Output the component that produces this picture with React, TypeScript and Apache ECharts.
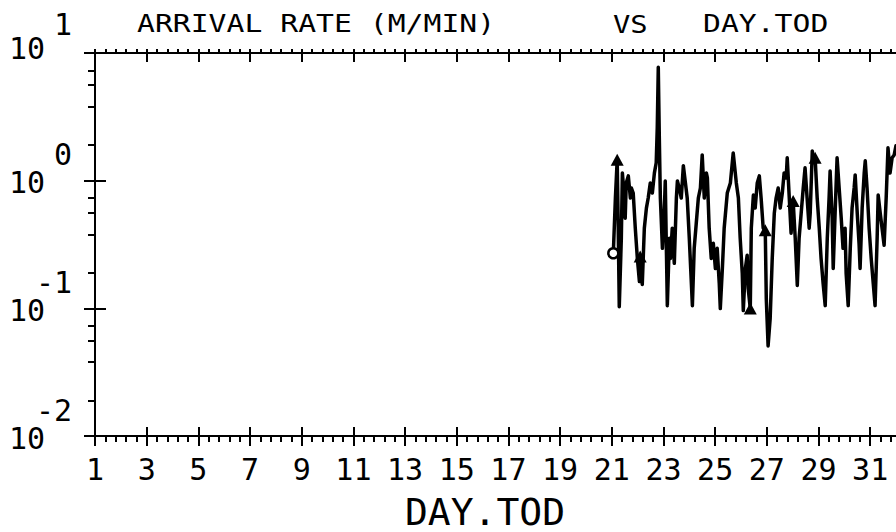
import React, { useEffect, useRef } from "react";
import * as echarts from "echarts";

const FONT = "'DejaVu Sans Mono', monospace";

// Sampled arrival-rate series (day of month, rate in M/MIN)
const days = [
  21.06, 21.14, 21.21, 21.25, 21.29, 21.37, 21.41, 21.49, 21.52, 21.56,
  21.64, 21.72, 21.76, 21.83, 21.91, 21.99, 22.07, 22.10, 22.18, 22.26,
  22.34, 22.41, 22.49, 22.57, 22.65, 22.72, 22.76, 22.80, 22.84, 22.88,
  22.96, 23.03, 23.07, 23.15, 23.23, 23.27, 23.34, 23.42, 23.50, 23.54,
  23.61, 23.69, 23.77, 23.85, 23.92, 24.00, 24.12, 24.19, 24.27, 24.35,
  24.43, 24.50, 24.58, 24.66, 24.70, 24.77, 24.85, 24.93, 25.01, 25.08,
  25.16, 25.20, 25.28, 25.35, 25.47, 25.59, 25.70, 25.82, 25.90, 25.97,
  26.05, 26.09, 26.17, 26.24, 26.28, 26.36, 26.40, 26.48, 26.55, 26.63,
  26.71, 26.78, 26.86, 26.94, 26.98, 27.05, 27.13, 27.21, 27.29, 27.36,
  27.44, 27.52, 27.60, 27.67, 27.75, 27.79, 27.87, 27.94, 28.02, 28.10,
  28.18, 28.25, 28.33, 28.41, 28.48, 28.56, 28.64, 28.68, 28.76, 28.83,
  28.87, 28.95, 29.03, 29.10, 29.18, 29.26, 29.34, 29.41, 29.45, 29.53,
  29.57, 29.65, 29.72, 29.80, 29.88, 29.95, 30.03, 30.07, 30.15, 30.23,
  30.30, 30.38, 30.42, 30.50, 30.57, 30.61, 30.69, 30.77, 30.81, 30.88,
  30.96, 31.04, 31.12, 31.19, 31.27, 31.31, 31.39, 31.46, 31.54, 31.62,
  31.69, 31.77, 31.85, 31.93, 32.0,
];
const rates = [
  0.27, 0.731, 1.46, 0.424, 0.103, 0.354, 1.15, 0.731, 0.508, 0.96,
  1.09, 0.731, 0.876, 0.8, 0.424, 0.246, 0.162, 0.255, 0.154, 0.424,
  0.61, 0.731, 0.96, 0.8, 1.15, 1.38, 2.6, 7.72, 2.17, 0.731,
  0.295, 0.557, 0.995, 0.105, 0.354, 0.246, 0.424, 0.225, 0.731, 0.995,
  0.876, 0.731, 1.31, 0.96, 0.731, 0.354, 0.105, 0.295, 0.464, 0.731,
  0.876, 1.59, 0.731, 1.15, 1.05, 0.424, 0.246, 0.323, 0.205, 0.295,
  0.156, 0.0995, 0.205, 0.424, 0.8, 0.96, 1.65, 0.96, 0.731, 0.354,
  0.188, 0.096, 0.205, 0.26, 0.143, 0.0995, 0.424, 0.772, 0.61, 0.96,
  1.09, 0.731, 0.424, 0.409, 0.119, 0.0508, 0.083, 0.246, 0.557, 0.731,
  0.876, 0.61, 0.8, 1.15, 1.05, 1.51, 0.731, 0.388, 0.692, 0.354,
  0.151, 0.354, 0.557, 0.876, 1.26, 0.731, 0.424, 0.557, 1.71, 1.38,
  1.51, 0.731, 0.424, 0.246, 0.156, 0.105, 0.354, 0.731, 1.19, 0.508,
  0.205, 0.61, 1.51, 0.876, 0.508, 0.295, 0.424, 0.188, 0.105, 0.295,
  0.61, 0.876, 1.11, 0.557, 0.323, 0.205, 0.61, 1.15, 1.43, 0.876,
  0.424, 0.246, 0.156, 0.105, 0.354, 0.772, 0.557, 0.424, 0.312, 0.731,
  1.81, 1.15, 1.51, 1.59, 1.88,
];

// Plot symbols drawn on some samples
const triangleDays = [21.21, 22.1, 26.36, 26.94, 28.02, 28.87];
const triangleRates = [1.46, 0.255, 0.0995, 0.409, 0.692, 1.51];
const circleDays = [21.06];
const circleRates = [0.27];

// Axis tick labels
const xTickLabels = [1, 3, 5, 7, 9, 11, 13, 15, 17, 19, 21, 23, 25, 27, 29, 31];
const yDecades = [0.01, 0.1, 1, 10];
const yExponentLabels = ["-2", "-1", "0", "1"];
const yMinorTicks = [
  0.019, 0.038, 0.056, 0.073,
  0.19, 0.38, 0.56, 0.73,
  1.9, 3.8, 5.6, 7.3,
];

export default function App() {
  const ref = useRef<HTMLDivElement>(null);

  useEffect(() => {
    if (!ref.current) return;
    const chart = echarts.init(ref.current, null, { renderer: "svg" });

    const xMinor: number[] = [];
    for (const m of xTickLabels) {
      for (const f of [0.4, 0.8, 1.2, 1.6]) {
        if (m + f < 32) xMinor.push(+(m + f).toFixed(2));
      }
    }

    const black = "#000";
    const tickStyle = { color: black, width: 2 };
    const xBase = {
      type: "value" as const,
      min: 1,
      max: 32,
      gridIndex: 0,
      splitLine: { show: false },
    };
    const yBase = {
      type: "log" as const,
      logBase: 10,
      min: 0.01,
      max: 10,
      gridIndex: 0,
      position: "left" as const,
      splitLine: { show: false },
    };

    const expIndex = (v: number) => Math.round(Math.log10(v)) + 2;
    const titleStyle = {
      fontSize: 24,
      fontFamily: FONT,
      fill: black,
      verticalAlign: "middle",
      align: "left",
    };

    chart.setOption({
      animation: false,
      backgroundColor: "#fff",
      grid: {
        left: 95,
        right: 0,
        top: 53,
        bottom: 96,
        containLabel: false,
        outerBoundsMode: "none",
      },
      graphic: [
        { type: "text", x: 137, y: 24, scaleX: 1.24, style: { ...titleStyle, text: "ARRIVAL RATE (M/MIN)" } },
        { type: "text", x: 613, y: 24, scaleX: 1.2, style: { ...titleStyle, text: "VS" } },
        { type: "text", x: 703, y: 24, scaleX: 1.24, style: { ...titleStyle, text: "DAY.TOD" } },
      ],
      xAxis: [
        {
          ...xBase,
          position: "bottom",
          axisLine: { show: true, lineStyle: { color: black, width: 2 } },
          axisTick: { show: true, inside: false, length: 10, customValues: xTickLabels, lineStyle: tickStyle },
          axisLabel: {
            show: true,
            customValues: xTickLabels,
            margin: 18,
            fontSize: 30,
            fontFamily: FONT,
            color: black,
          },
          name: "DAY.TOD",
          nameLocation: "middle",
          nameGap: 57,
          nameMoveOverlap: false,
          nameTextStyle: { fontSize: 38, fontFamily: FONT, color: black, padding: [0, 21, 0, 0] },
        },
        {
          ...xBase,
          position: "bottom",
          axisLine: { show: false },
          axisTick: { show: true, inside: true, length: 9, customValues: xTickLabels, lineStyle: tickStyle },
          axisLabel: { show: false },
        },
        {
          ...xBase,
          position: "bottom",
          axisLine: { show: false },
          axisTick: { show: true, inside: false, length: 6, customValues: xMinor, lineStyle: tickStyle },
          axisLabel: { show: false },
        },
        {
          ...xBase,
          position: "top",
          axisLine: { show: true, lineStyle: { color: black, width: 2 } },
          axisTick: { show: true, inside: false, length: 4, customValues: xMinor, lineStyle: tickStyle },
          axisLabel: { show: false },
        },
        {
          ...xBase,
          position: "top",
          axisLine: { show: false },
          axisTick: { show: true, inside: false, length: 4, customValues: xTickLabels, lineStyle: tickStyle },
          axisLabel: { show: false },
        },
        {
          ...xBase,
          position: "top",
          axisLine: { show: false },
          axisTick: { show: true, inside: true, length: 9, customValues: xTickLabels, lineStyle: tickStyle },
          axisLabel: { show: false },
        },
      ],
      yAxis: [
        {
          ...yBase,
          axisLine: { show: true, lineStyle: { color: black, width: 2 } },
          axisTick: { show: true, inside: false, length: 11, customValues: yDecades, lineStyle: tickStyle },
          axisLabel: {
            show: true,
            customValues: yDecades,
            margin: 50,
            formatter: (v: number) => (expIndex(v) === 3 ? "{t|10}" : "{b|10}"),
            rich: {
              t: { fontSize: 30, fontFamily: FONT, color: black, padding: [0, 0, 9, 0] },
              b: { fontSize: 30, fontFamily: FONT, color: black, padding: [4, 0, 0, 0] },
            },
          },
        },
        {
          ...yBase,
          axisLine: { show: false },
          axisTick: { show: true, inside: true, length: 11, customValues: yDecades, lineStyle: tickStyle },
          axisLabel: {
            show: true,
            customValues: yDecades,
            margin: 23,
            formatter: (v: number) => {
              const i = expIndex(v);
              return (i === 3 ? "{t|" : "{e|") + yExponentLabels[i] + "}";
            },
            rich: {
              t: { fontSize: 30, fontFamily: FONT, color: black, padding: [0, 0, 58, 0] },
              e: { fontSize: 30, fontFamily: FONT, color: black, padding: [0, 0, 52, 0] },
            },
          },
        },
        {
          ...yBase,
          axisLine: { show: false },
          axisTick: { show: true, inside: false, length: 7, customValues: yMinorTicks, lineStyle: tickStyle },
          axisLabel: { show: false },
        },
      ],
      series: [
        {
          type: "line",
          xAxisIndex: 0,
          yAxisIndex: 0,
          data: days.map((d, i) => [d, rates[i]]),
          symbol: "none",
          lineStyle: { color: black, width: 3.5, join: "round", cap: "round" },
          z: 3,
        },
        {
          type: "scatter",
          xAxisIndex: 0,
          yAxisIndex: 0,
          data: triangleDays.map((d, i) => [d, triangleRates[i]]),
          symbol: "triangle",
          symbolSize: [13, 12],
          itemStyle: { color: black, opacity: 1 },
          z: 4,
        },
        {
          type: "scatter",
          xAxisIndex: 0,
          yAxisIndex: 0,
          data: circleDays.map((d, i) => [d, circleRates[i]]),
          symbol: "circle",
          symbolSize: 10,
          itemStyle: { color: "#fff", borderColor: black, borderWidth: 2.5, opacity: 1 },
          z: 4,
        },
      ],
    });

    return () => chart.dispose();
  }, []);

  return (
    <div
      ref={ref}
      style={{ position: "absolute", left: 0, top: 0, width: 896, height: 532 }}
    />
  );
}
